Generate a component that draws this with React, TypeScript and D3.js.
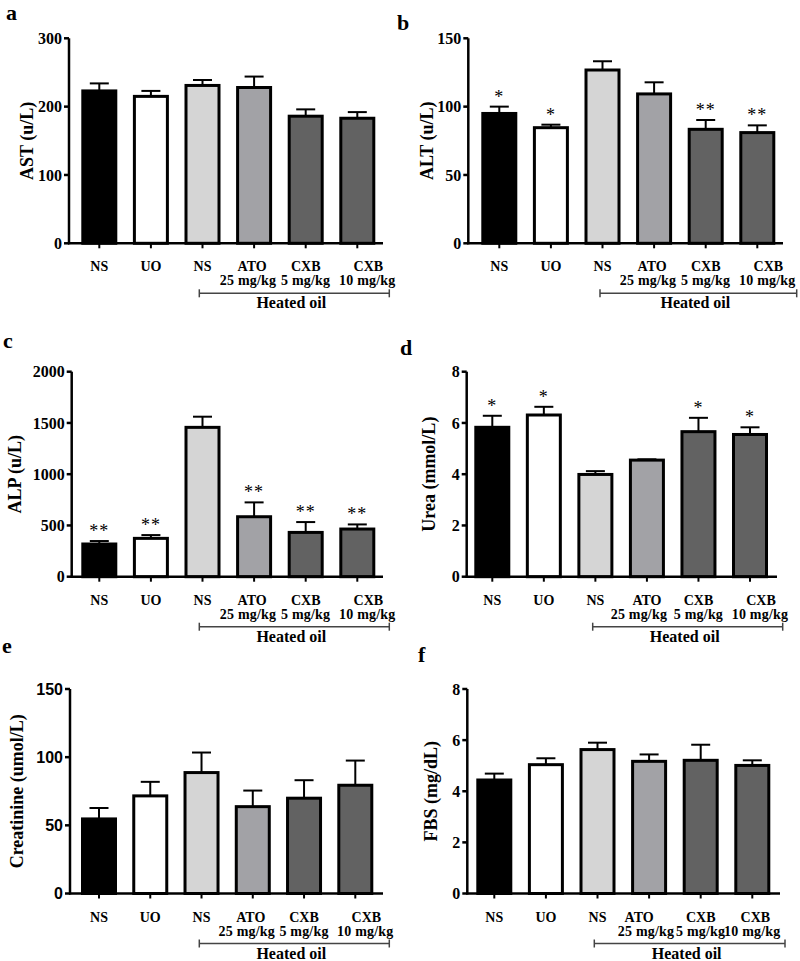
import React from "react";
import * as d3 from "d3";

// groups along the x axis
const groups = ["NS", "UO", "NS", "ATO", "CXB", "CXB"];
const doses = ["", "", "", "25 mg/kg", "5 mg/kg", "10 mg/kg"];
const fills = ["#000000", "#ffffff", "#d5d5d5", "#a2a2a6", "#626262", "#626262"];

// a: AST
const astMean = [223, 215, 231, 228, 186, 183];
const astSem = [11, 8, 8, 16, 10, 9];
const astTicks = [0, 100, 200, 300];
const astStars = ["", "", "", "", "", ""];

// b: ALT
const altMean = [95, 84.6, 126.8, 109.3, 83.4, 81];
const altSem = [5, 2.2, 6.4, 8.5, 6.8, 5.3];
const altTicks = [0, 50, 100, 150];
const altStars = ["*", "*", "", "", "**", "**"];

// c: ALP
const alpMean = [319, 374, 1457, 585, 432, 465];
const alpSem = [29, 32, 104, 140, 101, 45];
const alpTicks = [0, 500, 1000, 1500, 2000];
const alpStars = ["**", "**", "", "**", "**", "**"];

// d: Urea
const ureaMean = [5.83, 6.31, 3.99, 4.55, 5.66, 5.55];
const ureaSem = [0.45, 0.32, 0.13, 0.03, 0.54, 0.28];
const ureaTicks = [0, 2, 4, 6, 8];
const ureaStars = ["*", "*", "", "", "*", "*"];

// e: Creatinine
const creaMean = [54.7, 71.6, 88.7, 63.7, 69.9, 79.4];
const creaSem = [8, 10.3, 14.7, 11.8, 13.2, 18.1];
const creaTicks = [0, 50, 100, 150];
const creaStars = ["", "", "", "", "", ""];

// f: FBS
const fbsMean = [4.44, 5.04, 5.63, 5.17, 5.21, 5.01];
const fbsSem = [0.25, 0.25, 0.27, 0.27, 0.61, 0.2];
const fbsTicks = [0, 2, 4, 6, 8];
const fbsStars = ["", "", "", "", "", ""];

const serif = "'Liberation Serif', 'Times New Roman', serif";
const sans = "'Liberation Sans', Arial, sans-serif";

const panels = [
  { letter: "a", lx: 6, ly: 20, title: "AST (u/L)", tx: 27, mean: astMean, sem: astSem, ticks: astTicks, stars: astStars,
    x0: 69, x1: 383, c0: 99.3, c5: 357.3, yTop: 38.3, yZero: 243.3, b0: 199.3, b1: 389.3,
    s1: [0, 0, 0, -2, 0, 11], s2: [0, 0, 0, -6, 0, 10], tickFont: serif },
  { letter: "b", lx: 397, ly: 30, title: "ALT (u/L)", tx: 427, mean: altMean, sem: altSem, ticks: altTicks, stars: altStars,
    x0: 468.3, x1: 783, c0: 499.3, c5: 757.3, yTop: 38.3, yZero: 243.3, b0: 600, b1: 796.7,
    s1: [0, 0, 0, -2, 0, 11], s2: [0, 0, 0, -6, 0, 10], tickFont: serif },
  { letter: "c", lx: 3, ly: 348, title: "ALP (u/L)", tx: 15, mean: alpMean, sem: alpSem, ticks: alpTicks, stars: alpStars,
    x0: 71.7, x1: 383, c0: 99.3, c5: 357.3, yTop: 371.7, yZero: 576.7, b0: 199.3, b1: 389.3,
    s1: [0, 0, 0, -2, 0, 11], s2: [0, 0, 0, -6, 0, 10], tickFont: serif },
  { letter: "d", lx: 400, ly: 355, title: "Urea (mmol/L)", tx: 429, mean: ureaMean, sem: ureaSem, ticks: ureaTicks, stars: ureaStars,
    x0: 466.7, x1: 777, c0: 492.3, c5: 750, yTop: 371.7, yZero: 576.7, b0: 592.7, b1: 782.7,
    s1: [0, 0, 0, 0, 0, 11], s2: [0, 0, 0, -8, 0, 10], tickFont: serif },
  { letter: "e", lx: 2, ly: 653, title: "Creatinine (umol/L)", tx: 17, mean: creaMean, sem: creaSem, ticks: creaTicks, stars: creaStars,
    x0: 70, x1: 383, c0: 99, c5: 355.3, yTop: 689, yZero: 893.5, b0: 199.3, b1: 389.3,
    s1: [0, 0, 0, -2, 0, 11], s2: [0, 0, 0, -6, 0, 10], tickFont: sans },
  { letter: "f", lx: 418, ly: 662, title: "FBS (mg/dL)", tx: 431, mean: fbsMean, sem: fbsSem, ticks: fbsTicks, stars: fbsStars,
    x0: 467.3, x1: 780, c0: 494.3, c5: 752.3, yTop: 689, yZero: 893.5, b0: 594.3, b1: 785,
    s1: [0, 0, 0, -10, 0, 3], s2: [0, 0, 0, -3, 0, 0], tickFont: serif },
];

function Panel({ p }) {
  const max = p.ticks[p.ticks.length - 1];
  const y = d3.scaleLinear().domain([0, max]).range([p.yZero, p.yTop]);
  const x = d3.scalePoint().domain(d3.range(groups.length)).range([p.c0, p.c5]);
  const bw = 33;
  const midY = (p.yTop + p.yZero) / 2;

  return (
    <g>
      <text x={p.lx} y={p.ly} fontFamily={serif} fontWeight="bold" fontSize={22}>{p.letter}</text>
      <text transform={`translate(${p.tx},${midY}) rotate(-90)`} textAnchor="middle" dy="0.35em"
        fontFamily={serif} fontWeight="bold" fontSize={18}>{p.title}</text>

      {/* bars + error bars */}
      {p.mean.map((m, i) => {
        const cx = x(i);
        const top = y(m + p.sem[i]);
        return (
          <g key={i}>
            <line x1={cx} x2={cx} y1={y(m)} y2={top} stroke="#000" strokeWidth={2} />
            <line x1={cx - 9.5} x2={cx + 9.5} y1={top} y2={top} stroke="#000" strokeWidth={2} />
            <rect x={cx - bw / 2} y={y(m)} width={bw} height={p.yZero - y(m)}
              fill={fills[i]} stroke="#000" strokeWidth={3} />
            {p.stars[i] && (
              <text x={cx} y={top - 4} textAnchor="middle" fontFamily={serif} fontSize={18}
                letterSpacing={1}>{p.stars[i]}</text>
            )}
          </g>
        );
      })}

      {/* y axis */}
      <line x1={p.x0} x2={p.x0} y1={p.yTop} y2={p.yZero + 1} stroke="#000" strokeWidth={2.5} />
      {p.ticks.map(t => (
        <g key={t} transform={`translate(0,${y(t)})`}>
          <line x1={p.x0 - 5} x2={p.x0} stroke="#000" strokeWidth={2.5} />
          <text x={p.x0 - 7} dy="0.35em" textAnchor="end" fontFamily={p.tickFont}
            fontWeight="bold" fontSize={16}>{t}</text>
        </g>
      ))}

      {/* x axis */}
      <line x1={p.x0 - 1} x2={p.x1} y1={p.yZero} y2={p.yZero} stroke="#000" strokeWidth={2.5} />
      {groups.map((g, i) => (
        <g key={i}>
          <line x1={x(i)} x2={x(i)} y1={p.yZero} y2={p.yZero + 5} stroke="#000" strokeWidth={2} />
          <text x={x(i) + p.s1[i]} y={p.yZero + 28} textAnchor="middle" fontFamily={serif}
            fontWeight="bold" fontSize={14}>{g}</text>
          {doses[i] && (
            <text x={x(i) + p.s2[i]} y={p.yZero + 42} textAnchor="middle" fontFamily={serif}
              fontWeight="bold" fontSize={14} letterSpacing={0.2}>{doses[i]}</text>
          )}
        </g>
      ))}

      {/* heated oil bracket */}
      <g stroke="#444" strokeWidth={1.5}>
        <line x1={p.b0} x2={p.b1} y1={p.yZero + 50} y2={p.yZero + 50} />
        <line x1={p.b0} x2={p.b0} y1={p.yZero + 46} y2={p.yZero + 54} />
        <line x1={p.b1} x2={p.b1} y1={p.yZero + 46} y2={p.yZero + 54} />
      </g>
      <text x={(p.b0 + p.b1) / 2 - 3} y={p.yZero + 65} textAnchor="middle" fontFamily={serif}
        fontWeight="bold" fontSize={16}>Heated oil</text>
    </g>
  );
}

export default function App() {
  return (
    <svg width={800} height={961} style={{ position: "absolute", left: 0, top: 0, background: "#fff" }}>
      {panels.map(p => <Panel key={p.letter} p={p} />)}
    </svg>
  );
}
